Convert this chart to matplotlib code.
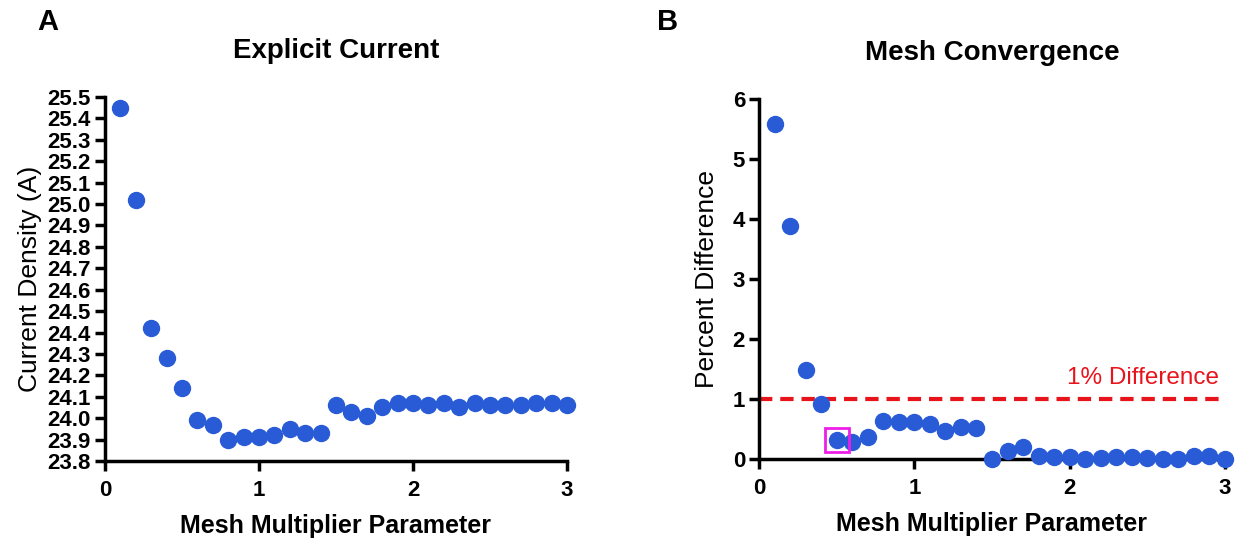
import matplotlib.pyplot as plt
import numpy as np

plt.rcParams['font.family'] = ['Liberation Sans', 'DejaVu Sans']

# Mesh multiplier values (shared by both panels)
mesh = [0.1, 0.2, 0.3, 0.4, 0.5, 0.6, 0.7, 0.8, 0.9, 1.0,
        1.1, 1.2, 1.3, 1.4, 1.5, 1.6, 1.7, 1.8, 1.9, 2.0,
        2.1, 2.2, 2.3, 2.4, 2.5, 2.6, 2.7, 2.8, 2.9, 3.0]

# Panel A: explicit current
current = [25.45, 25.02, 24.42, 24.28, 24.14, 23.99, 23.97, 23.90, 23.91, 23.91,
           23.92, 23.95, 23.93, 23.93, 24.06, 24.03, 24.01, 24.05, 24.07, 24.07,
           24.06, 24.07, 24.05, 24.07, 24.06, 24.06, 24.06, 24.07, 24.07, 24.06]

# Panel B: percent difference
pct_diff = [5.58, 3.88, 1.48, 0.92, 0.32, 0.29, 0.37, 0.63, 0.61, 0.61,
            0.58, 0.47, 0.54, 0.52, 0.00, 0.14, 0.20, 0.05, 0.03, 0.04,
            0.00, 0.02, 0.03, 0.04, 0.01, 0.00, 0.00, 0.05, 0.05, 0.00]

threshold = 1.0
chosen_x = 0.5
chosen_y = 0.32

blue = '#2a5bd7'
W, H = 1235, 544

fig = plt.figure(figsize=(W / 100, H / 100), dpi=100)
axA = fig.add_axes([105 / W, 1 - 461 / H, (567 - 105) / W, (461 - 97) / H])
axB = fig.add_axes([759 / W, 1 - 459 / H, (1225 - 759) / W, (459 - 99) / H])


def style(ax):
    for s in ['top', 'right']:
        ax.spines[s].set_visible(False)
    for s in ['left', 'bottom']:
        ax.spines[s].set_linewidth(2.5)
    ax.tick_params(direction='out', length=7, width=2.5, labelsize=16, pad=3)
    ax.tick_params(axis='x', pad=7)
    for lab in ax.get_xticklabels() + ax.get_yticklabels():
        lab.set_fontweight('bold')
    ax.set_xlim(0, 3)
    ax.set_xticks([0, 1, 2, 3])
    ax.set_xlabel('Mesh Multiplier Parameter', fontsize=18, fontweight='bold', labelpad=9)


# Panel A
axA.plot(mesh, current, 'o', color=blue, markersize=11.5, clip_on=False)
axA.set_ylim(23.8, 25.5)
axA.set_yticks(np.round(np.arange(23.8, 25.51, 0.1), 1))
axA.set_yticklabels([f'{v:.1f}' for v in np.arange(23.8, 25.51, 0.1)])
axA.set_ylabel('Current Density (A)', fontsize=19, labelpad=4)
axA.set_title('Explicit Current', fontsize=20, fontweight='bold', pad=28)
style(axA)

# Panel B
axB.axhline(threshold, color='#e8141c', linewidth=3, dashes=(3.2, 1.9))
axB.plot(mesh, pct_diff, 'o', color=blue, markersize=11.5, clip_on=False, zorder=3)
axB.plot([chosen_x], [chosen_y], 's', markersize=17, markerfacecolor='none',
         markeredgecolor='#ee1ee8', markeredgewidth=2, clip_on=False, zorder=4)
axB.text(2.96, 1.35, '1% Difference', color='#e8141c', fontsize=17.5,
         ha='right', va='center')
axB.set_ylim(0, 6)
axB.set_yticks([0, 1, 2, 3, 4, 5, 6])
axB.set_ylabel('Percent Difference', fontsize=19, labelpad=10)
axB.set_title('Mesh Convergence', fontsize=20, fontweight='bold', pad=28)
style(axB)

fig.text(48 / W, 1 - 22 / H, 'A', fontsize=21, fontweight='bold', ha='center', va='center')
fig.text(668 / W, 1 - 22 / H, 'B', fontsize=21, fontweight='bold', ha='center', va='center')

fig.savefig('out.png', dpi=100)
